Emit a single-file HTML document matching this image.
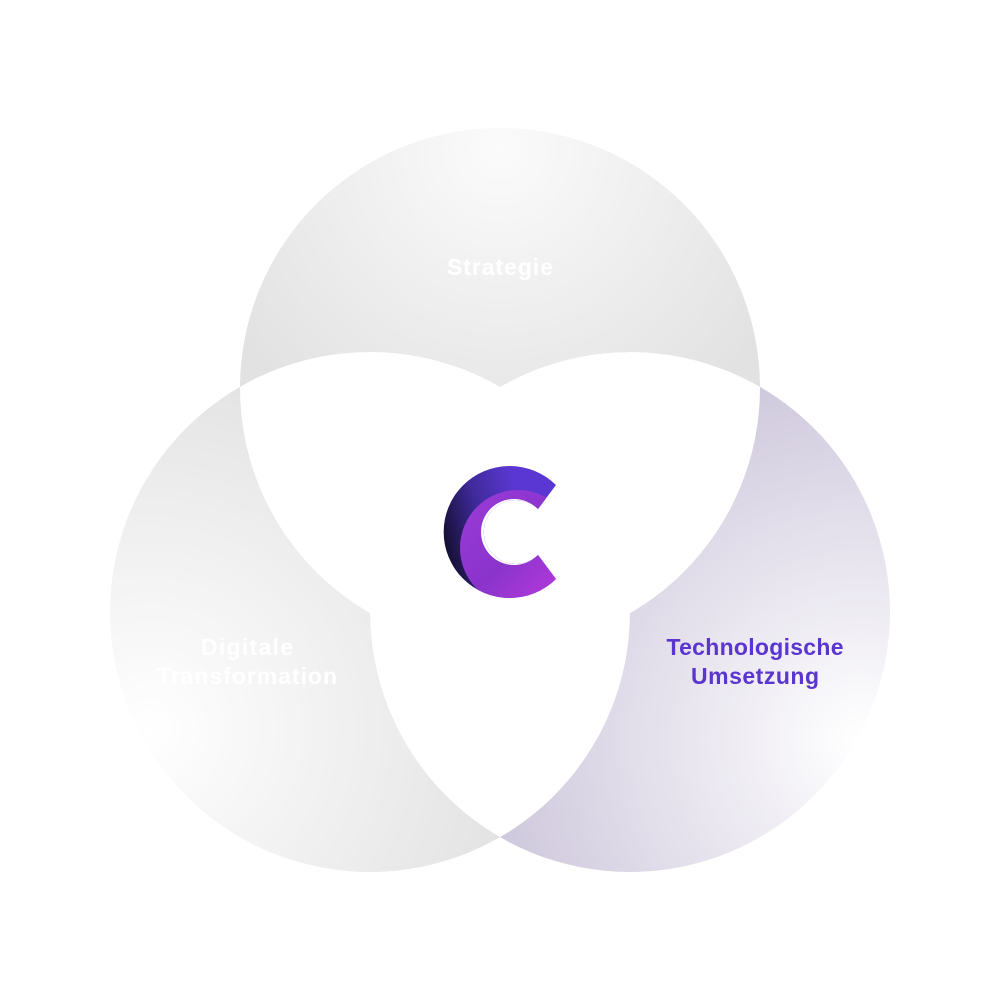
<!DOCTYPE html>
<html><head><meta charset="utf-8"><style>
html,body{margin:0;padding:0;background:#fff;width:1000px;height:1000px;overflow:hidden}
svg{display:block}
text{font-family:"Liberation Sans",sans-serif;font-weight:bold;font-size:23px;text-anchor:middle}
</style></head><body>
<svg width="1000" height="1000" viewBox="0 0 1000 1000">
<defs>
<radialGradient id="gt" gradientUnits="userSpaceOnUse" cx="500" cy="150" r="320">
<stop offset="0" stop-color="#fbfbfb"/><stop offset="1" stop-color="#e2e2e2"/></radialGradient>
<radialGradient id="gl" gradientUnits="userSpaceOnUse" cx="150" cy="730" r="380">
<stop offset="0" stop-color="#ffffff"/><stop offset="1" stop-color="#e2e2e2"/></radialGradient>
<radialGradient id="gr" gradientUnits="userSpaceOnUse" cx="860" cy="740" r="400">
<stop offset="0" stop-color="#ffffff"/><stop offset="1" stop-color="#cbc4da"/></radialGradient>
<clipPath id="cl"><circle cx="370" cy="612" r="260"/></clipPath>
<clipPath id="cr"><circle cx="630" cy="612" r="260"/></clipPath>
<linearGradient id="lo" x1="0" y1="0.6" x2="1" y2="0.3">
<stop offset="0" stop-color="#140f30"/><stop offset="0.35" stop-color="#3f2a9a"/><stop offset="0.7" stop-color="#5a37d2"/><stop offset="1" stop-color="#5a37d2"/></linearGradient>
<linearGradient id="li" x1="0" y1="0" x2="1" y2="1">
<stop offset="0" stop-color="#9b3ad8"/><stop offset="0.5" stop-color="#8a34cc"/><stop offset="1" stop-color="#c23ae2"/></linearGradient>
<clipPath id="cc"><path d="M556,485 A66,66 0 1 0 556,579 L538,555 A32,32 0 1 1 538,509 Z"/></clipPath>
</defs>
<circle cx="500" cy="388" r="260" fill="url(#gt)"/>
<circle cx="370" cy="612" r="260" fill="url(#gl)"/>
<circle cx="630" cy="612" r="260" fill="url(#gr)"/>
<g fill="#fff">
<circle cx="500" cy="388" r="260" clip-path="url(#cl)"/>
<circle cx="500" cy="388" r="260" clip-path="url(#cr)"/>
<circle cx="370" cy="612" r="260" clip-path="url(#cr)"/>
</g>
<path d="M556,485 A66,66 0 1 0 556,579 L538,555 A32,32 0 1 1 538,509 Z" fill="url(#lo)"/>
<g clip-path="url(#cc)">
<circle cx="518" cy="548" r="58" fill="url(#li)"/>
<circle cx="514" cy="532" r="33" fill="#fff"/>
</g>
<text x="500" y="275" fill="#fff" textLength="106">Strategie</text>
<text x="247" y="655" fill="#fff" textLength="92">Digitale</text>
<text x="247" y="684" fill="#fff" textLength="180">Transformation</text>
<text x="755" y="655" fill="#5a35d0" textLength="177">Technologische</text>
<text x="755" y="684" fill="#5a35d0" textLength="128">Umsetzung</text>
</svg>
</body></html>
